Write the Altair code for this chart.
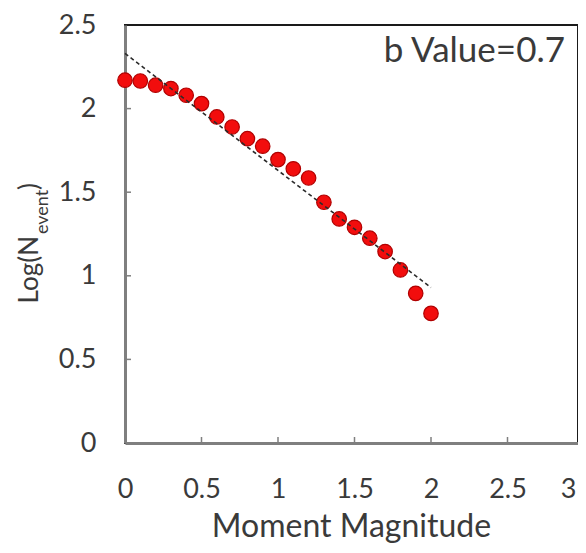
import altair as alt
import pandas as pd

# ---- data ----
magnitude = [0.0, 0.1, 0.2, 0.3, 0.4, 0.5, 0.6, 0.7, 0.8, 0.9, 1.0,
             1.1, 1.2, 1.3, 1.4, 1.5, 1.6, 1.7, 1.8, 1.9, 2.0]
log_n = [2.17, 2.165, 2.14, 2.12, 2.08, 2.03, 1.95, 1.89, 1.82, 1.775, 1.695,
         1.64, 1.585, 1.44, 1.34, 1.29, 1.225, 1.145, 1.035, 0.895, 0.775]
fit_m = [0.0, 2.0]
fit_log = [2.33, 0.93]
x_tick_values = [0, 0.5, 1, 1.5, 2, 2.5, 3]
y_tick_values = [0, 0.5, 1, 1.5, 2, 2.5]
x_inner_ticks = [0.5, 1, 1.5, 2, 2.5]
y_inner_ticks = [0.5, 1, 1.5, 2]
x_title = "Moment Magnitude"
y_title_main = ["Log(N"]
y_title_sub = ["event"]
y_title_close = [")"]
annotation = ["b Value=0.7"]

FONT = "Lato"
TXT = "#3a3a3a"
W, H = 453, 418      # visible view (page is 570 wide inside its margin)
X_RANGE = 459        # x = 3 sits just past the right edge, as in the reference

pts = pd.DataFrame({"m": magnitude, "v": log_n})
fit = pd.DataFrame({"m": fit_m, "v": fit_log})
xt = pd.DataFrame({"m": x_inner_ticks})
yt = pd.DataFrame({"v": y_inner_ticks})

xs = alt.Scale(domain=[0, 3], nice=False, zero=False, range=[0, X_RANGE])
ys = alt.Scale(domain=[0, 2.5], nice=False, zero=False)

x_axis = alt.Axis(values=x_tick_values, format="~g", ticks=False, grid=False,
                  domainColor="#7f7f7f", domainWidth=3,
                  labelFont=FONT, labelFontSize=27, labelColor=TXT,
                  labelPadding=33, labelFlush=False, labelOverlap=False,
                  labelBound=False,
                  labelAlign=alt.condition("datum.value == 3", alt.value("right"), alt.value("center")),
                  labelOffset=alt.condition("datum.value == 3", alt.value(-8), alt.value(0)),
                  titleFont=FONT, titleFontSize=32, titleFontWeight="normal",
                  titleColor=TXT, titleBaseline="alphabetic", titleY=93,
                  titleX=226, titleAlign="center")
y_axis = alt.Axis(values=y_tick_values, format="~g", ticks=False, grid=False,
                  domainColor="#7f7f7f", domainWidth=3,
                  labelFont=FONT, labelFontSize=27, labelColor=TXT,
                  labelPadding=29, labelFlush=False, labelOverlap=False,
                  labelBound=False, title=None)

xe = alt.X("m:Q", scale=xs, axis=x_axis, title=x_title)
ye = alt.Y("v:Q", scale=ys, axis=y_axis)

points = alt.Chart(pts).mark_circle(
    size=210, color="#f20d0d", opacity=1, stroke="#b00000", strokeWidth=1.2
).encode(x=xe, y=ye)

trend = alt.Chart(fit).mark_line(
    color="#2b2b2b", strokeDash=[4, 3], strokeWidth=1.6
).encode(x=xe, y=ye)

xticks = alt.Chart(xt).mark_rule(color="#7f7f7f", strokeWidth=1.5).encode(
    x=xe, y=alt.value(H), y2=alt.value(H - 6))
yticks = alt.Chart(yt).mark_rule(color="#7f7f7f", strokeWidth=1.5).encode(
    y=ye, x=alt.value(0), x2=alt.value(6))

anchor_x = -87
anchor_y = 211
t_main = alt.Chart(pd.DataFrame({"t": y_title_main})).mark_text(
    angle=270, align="right", baseline="alphabetic", font=FONT, fontSize=26,
    color=TXT).encode(text="t:N", x=alt.value(anchor_x), y=alt.value(anchor_y))
t_sub = alt.Chart(pd.DataFrame({"t": y_title_sub})).mark_text(
    angle=270, align="left", baseline="alphabetic", font=FONT, fontSize=18,
    color=TXT, dx=2, dy=10).encode(text="t:N", x=alt.value(anchor_x), y=alt.value(anchor_y))
t_close = alt.Chart(pd.DataFrame({"t": y_title_close})).mark_text(
    angle=270, align="left", baseline="alphabetic", font=FONT, fontSize=26,
    color=TXT, dx=46).encode(text="t:N", x=alt.value(anchor_x), y=alt.value(anchor_y))

note = alt.Chart(pd.DataFrame({"t": annotation})).mark_text(
    align="right", baseline="alphabetic", font=FONT, fontSize=35, color=TXT
).encode(text="t:N", x=alt.value(440), y=alt.value(37))

chart = alt.layer(xticks, yticks, points, trend, t_main, t_sub, t_close, note).properties(
    width=W, height=H,
    autosize=alt.AutoSizeParams(type="none"),
    padding={"left": 117, "top": 17, "right": 0, "bottom": 102},
).configure_view(stroke="#1a1a1a", strokeWidth=2)

chart.save("out.html", embed_options={"renderer": "svg", "actions": False})
